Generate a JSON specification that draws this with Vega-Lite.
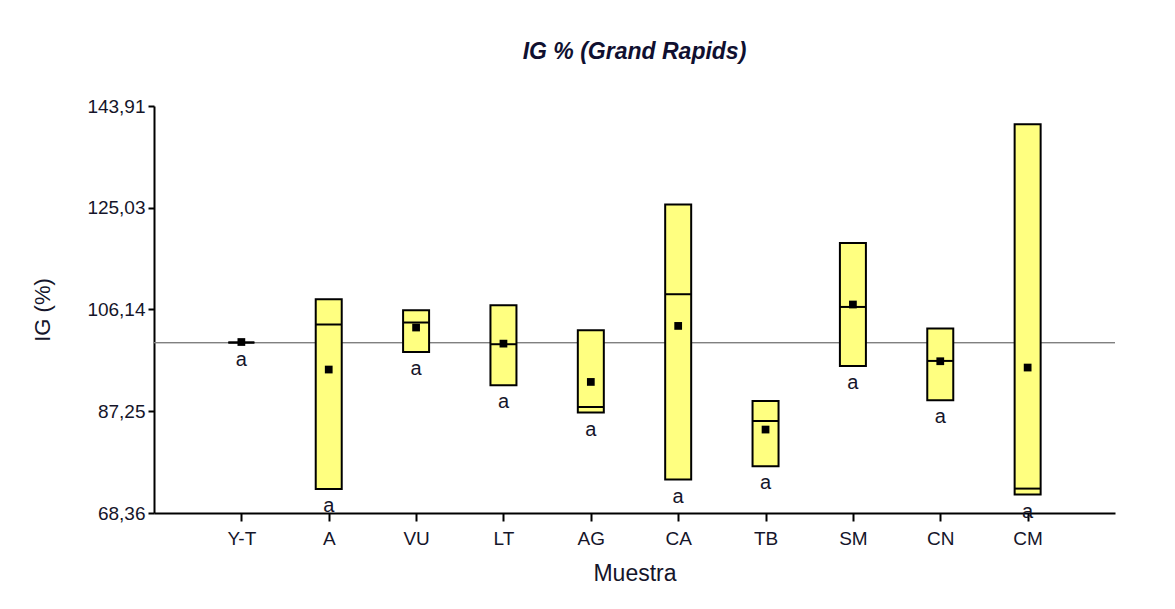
{
  "$schema": "https://vega.github.io/schema/vega-lite/v6.json",
  "autosize": {"type": "none"},
  "width": 961,
  "height": 407,
  "padding": {"left": 154, "top": 106, "right": 60, "bottom": 96},
  "background": "white",
  "title": {
    "text": "IG % (Grand Rapids)",
    "font": "Liberation Sans",
    "fontSize": 23,
    "fontWeight": "bold",
    "fontStyle": "italic",
    "color": "#101030",
    "frame": "group",
    "anchor": "middle",
    "offset": 33
  },
  "config": {
    "view": {"stroke": null},
    "axis": {
      "labelFont": "Liberation Sans",
      "titleFont": "Liberation Sans",
      "labelColor": "#15152a",
      "titleColor": "#15152a",
      "domainColor": "#000000",
      "tickColor": "#000000",
      "domainWidth": 2,
      "tickWidth": 2,
      "grid": false
    }
  },
  "data": {
    "values": [
      {"muestra": "Y-T", "lo": 100.0, "hi": 100.0, "med": 100.0, "media": 100.1, "letra": "a"},
      {"muestra": "A", "lo": 72.82, "hi": 108.04, "med": 103.35, "media": 94.99, "letra": "a"},
      {"muestra": "VU", "lo": 98.26, "hi": 106.0, "med": 103.72, "media": 102.79, "letra": "a"},
      {"muestra": "LT", "lo": 92.07, "hi": 106.93, "med": 99.69, "media": 99.8, "letra": "a"},
      {"muestra": "AG", "lo": 87.0, "hi": 102.29, "med": 88.04, "media": 92.69, "letra": "a"},
      {"muestra": "CA", "lo": 74.56, "hi": 125.63, "med": 108.97, "media": 103.09, "letra": "a"},
      {"muestra": "TB", "lo": 77.03, "hi": 89.16, "med": 85.44, "media": 83.85, "letra": "a"},
      {"muestra": "SM", "lo": 95.66, "hi": 118.5, "med": 106.61, "media": 107.06, "letra": "a"},
      {"muestra": "CN", "lo": 89.29, "hi": 102.6, "med": 96.59, "media": 96.53, "letra": "a"},
      {"muestra": "CM", "lo": 71.78, "hi": 140.54, "med": 72.89, "media": 95.36, "letra": "a"}
    ]
  },
  "encoding": {
    "x": {
      "field": "muestra",
      "type": "nominal",
      "sort": null,
      "scale": {"type": "point", "padding": 1},
      "axis": {
        "title": "Muestra",
        "labelAngle": 0,
        "labelFontSize": 19,
        "titleFontSize": 23,
        "titleFontWeight": "normal",
        "tickSize": 8,
        "labelPadding": 8,
        "titlePadding": 14
      }
    }
  },
  "layer": [
    {
      "mark": {"type": "rule", "color": "#808080", "strokeWidth": 1},
      "encoding": {
        "x": null,
        "y": {"datum": 100, "type": "quantitative"}
      }
    },
    {
      "mark": {"type": "bar", "size": 26, "fill": "#FFFF80", "stroke": "#000000", "strokeWidth": 2, "opacity": 1},
      "encoding": {
        "y": {
          "field": "lo",
          "type": "quantitative",
          "scale": {"domain": [68.36, 143.91], "nice": false, "zero": false},
          "axis": {
            "title": "IG  (%)",
            "values": [68.36, 87.25, 106.14, 125.03, 143.91],
            "labelExpr": "replace(format(datum.value, '.2f'), '.', ',')",
            "labelFontSize": 19,
            "titleFontSize": 22,
            "titleFontWeight": "normal",
            "tickSize": 6,
            "labelPadding": 3,
            "titleX": -112,
            "titleBaseline": "middle"
          }
        },
        "y2": {"field": "hi"}
      }
    },
    {
      "mark": {"type": "tick", "size": 26, "thickness": 2, "color": "#000000", "opacity": 1},
      "encoding": {"y": {"field": "med", "type": "quantitative"}}
    },
    {
      "mark": {"type": "point", "shape": "square", "filled": true, "size": 60, "color": "#000000", "opacity": 1},
      "encoding": {"y": {"field": "media", "type": "quantitative"}}
    },
    {
      "mark": {"type": "text", "dy": 17, "baseline": "middle", "font": "Liberation Sans", "fontSize": 20, "color": "#15152a"},
      "encoding": {
        "y": {"field": "lo", "type": "quantitative"},
        "text": {"field": "letra"}
      }
    }
  ]
}
